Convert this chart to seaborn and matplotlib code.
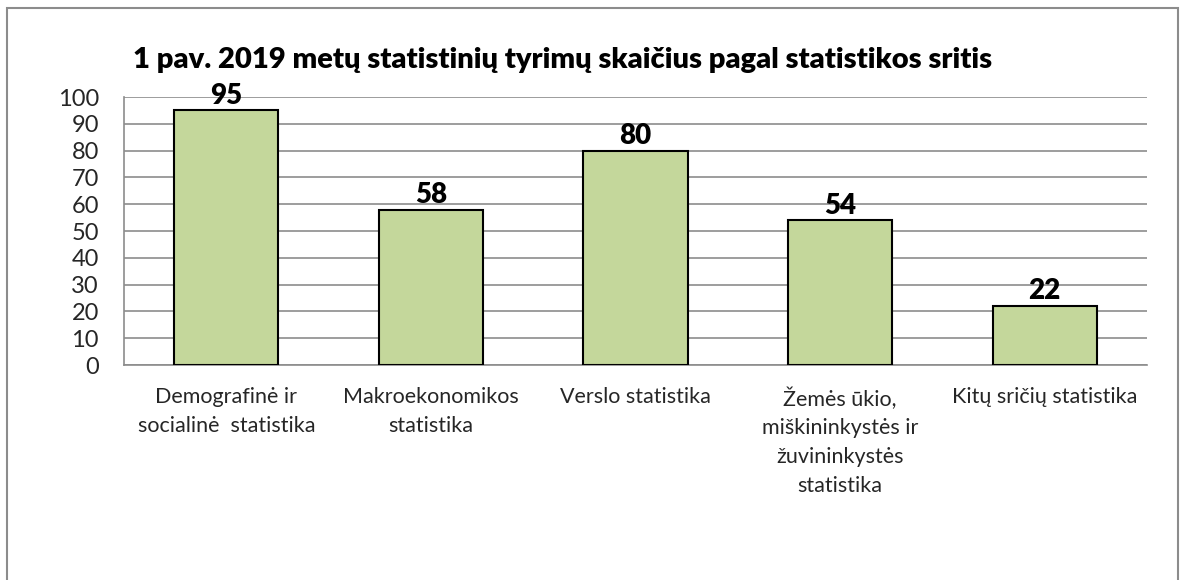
import matplotlib
matplotlib.use("Agg")
import matplotlib.pyplot as plt
import seaborn as sns
import pandas as pd
from matplotlib.patches import Rectangle

categories = ["Demografinė ir\nsocialinė  statistika", "Makroekonomikos\nstatistika",
              "Verslo statistika", "Žemės ūkio,\nmiškininkystės ir\nžuvininkystės\nstatistika",
              "Kitų sričių statistika"]
values = [95, 58, 80, 54, 22]
yticks = [0, 10, 20, 30, 40, 50, 60, 70, 80, 90, 100]
title = "1 pav. 2019 metų statistinių tyrimų skaičius pagal statistikos sritis"

sns.set_theme(style="white")
plt.rcParams['font.family'] = ['Lato', 'DejaVu Sans']

W, H = 1182, 580
fig = plt.figure(figsize=(W / 100, H / 100), dpi=100)
fig.patch.set_facecolor("white")
fig.patches.append(Rectangle((7 / W, -0.05), (1178 - 7) / W, (H - 8) / H + 0.05,
                             transform=fig.transFigure, fill=False,
                             edgecolor="#8c8c8c", linewidth=1.5))

left, right, top, bottom = 124, 1147, 97, 365
ax = fig.add_axes([left / W, 1 - bottom / H, (right - left) / W, (bottom - top) / H])

df = pd.DataFrame({"cat": categories, "val": values})
sns.barplot(data=df, x="cat", y="val", ax=ax, color="#c4d79b", width=0.51,
            edgecolor="black", linewidth=1.5, saturation=1, zorder=3)

ax.set_ylim(0, 100)
ax.set_yticks(yticks)
ax.set_yticklabels([str(t) for t in yticks], fontsize=17)
ax.yaxis.grid(True, color="#8c8c8c", linewidth=1.2, zorder=0)
ax.set_axisbelow(True)
for s in ["top", "right"]:
    ax.spines[s].set_visible(False)
for s in ["left", "bottom"]:
    ax.spines[s].set_color("#8c8c8c")
    ax.spines[s].set_linewidth(1.2)
ax.tick_params(axis="y", length=0, pad=18)
ax.tick_params(axis="x", length=0, pad=16)
ax.set_xticklabels(categories, fontsize=15.5, linespacing=1.55, va="top")
ax.set_xlabel("")
ax.set_ylabel("")

for i, v in enumerate(values):
    ax.text(i, v + 0.6, str(v), ha="center", va="bottom", fontsize=20,
            fontweight="heavy", color="black", zorder=4)

fig.text(133 / W, 1 - 60 / H, title, ha="left", va="center", fontsize=21,
         fontweight="heavy", color="black")

fig.savefig("out.png", dpi=100)
